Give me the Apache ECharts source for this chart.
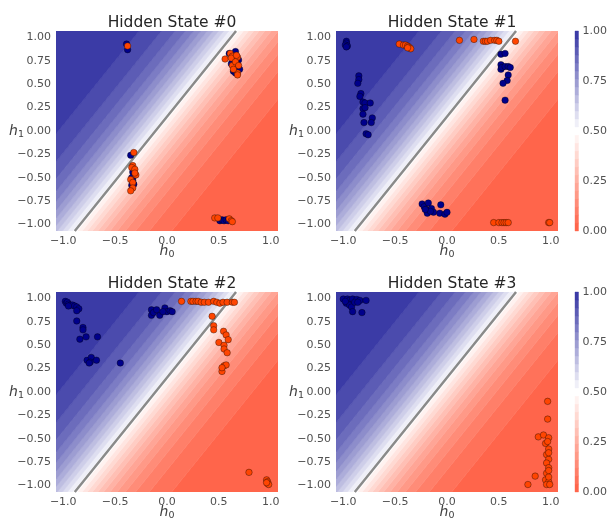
<!DOCTYPE html>
<html>
<head>
<meta charset="utf-8">
<script src="https://cdn.jsdelivr.net/npm/echarts@6/dist/echarts.min.js"></script>
<style>
  html, body { margin: 0; padding: 0; background: #ffffff; }
  #chart { width: 610px; height: 522px; }
</style>
</head>
<body>
<div id="chart"></div>
<script>
// ---- chart text and ticks ----
const titles = ['Hidden State #0', 'Hidden State #1', 'Hidden State #2', 'Hidden State #3'];
const xTicks = [-1, -0.5, 0, 0.5, 1];
const yTicks = [-1, -0.75, -0.5, -0.25, 0, 0.25, 0.5, 0.75, 1];
const colorbarTicks = [0, 0.25, 0.5, 0.75, 1];

// contour levels of the classifier probability P(blue)
const levels = [0, 0.04, 0.08, 0.12, 0.16, 0.2, 0.24, 0.28, 0.32, 0.36, 0.4, 0.44, 0.48,
                0.52, 0.56, 0.6, 0.64, 0.68, 0.72, 0.76, 0.8, 0.84, 0.88, 0.92, 0.96, 1];

// linear readout: logit P(blue) = wH0*h0 + wH1*h1 + bias
const wH0 = -3.40;
const wH1 = 2.47;
const bias = -0.38;

// plotted range of both hidden units
const axisExtent = [-1.07, 1.07];

// ---- hidden state samples [h0, h1] ----
const blue0 = [[-0.39,0.93],[-0.38,0.87],[0.60,0.83],[0.66,0.85],[0.65,0.80],[0.69,0.76],[0.67,0.72],
  [0.66,0.68],[0.64,0.64],[0.66,0.62],[0.70,0.66],[0.62,0.72],[-0.35,-0.26],[-0.33,-0.44],[-0.32,-0.48],
  [-0.34,-0.50],[-0.33,-0.53],[-0.32,-0.57],[-0.34,-0.58],[0.51,-0.96],[0.53,-0.95],[0.55,-0.96],
  [0.57,-0.95],[0.59,-0.96]];
const red0 = [[-0.38,0.91],[0.56,0.77],[0.61,0.83],[0.63,0.80],[0.62,0.78],[0.68,0.79],[0.63,0.70],
  [0.66,0.74],[0.69,0.70],[0.68,0.62],[0.68,0.60],[0.64,0.66],[0.67,0.81],[-0.32,-0.23],[-0.33,-0.37],
  [-0.34,-0.39],[-0.31,-0.41],[-0.30,-0.47],[-0.35,-0.52],[-0.33,-0.55],[-0.33,-0.61],[-0.35,-0.64],
  [-0.31,-0.45],[0.46,-0.93],[0.49,-0.93],[0.60,-0.94],[0.62,-0.96],[0.63,-0.97]];

const blue1 = [[-0.97,0.96],[-0.97,0.94],[-0.98,0.92],[-0.96,0.91],[-0.97,0.90],
  [0.52,0.82],[0.56,0.83],[0.52,0.71],[0.52,0.66],[0.53,0.68],[0.56,0.69],[0.59,0.69],[0.61,0.68],
  [0.59,0.60],[0.58,0.54],[0.54,0.51],[0.56,0.33],
  [-0.85,0.59],[-0.85,0.55],[-0.86,0.51],[-0.83,0.40],[-0.84,0.37],[-0.81,0.31],[-0.79,0.30],
  [-0.74,0.30],[-0.81,0.24],[-0.79,0.25],[-0.81,0.18],[-0.80,0.09],[-0.72,0.14],[-0.73,0.09],
  [-0.78,-0.03],[-0.76,-0.04],
  [-0.24,-0.78],[-0.22,-0.81],[-0.18,-0.77],[-0.20,-0.84],[-0.19,-0.88],[-0.15,-0.83],[-0.13,-0.87],
  [-0.06,-0.79],[-0.07,-0.88],[-0.02,-0.89],[0.00,-0.87],[-0.16,-0.86],[-0.21,-0.84]];
const red1 = [[-0.46,0.93],[-0.42,0.92],[-0.40,0.92],[-0.38,0.91],[-0.37,0.90],[-0.36,0.89],[-0.35,0.88],
  [-0.38,0.89],[0.12,0.97],[0.26,0.98],[0.35,0.96],[0.37,0.96],[0.39,0.96],[0.42,0.97],[0.46,0.97],
  [0.48,0.97],[0.50,0.96],[0.66,0.96],[0.45,-0.98],[0.50,-0.98],[0.53,-0.98],[0.55,-0.98],[0.57,-0.98],
  [0.59,-0.98],[0.98,-0.98],[0.99,-0.98]];

const blue2 = [[-0.98,0.97],[-0.97,0.95],[-0.96,0.96],[-0.95,0.94],[-0.93,0.93],[-0.91,0.93],[-0.89,0.92],
  [-0.87,0.91],[-0.85,0.89],[-0.95,0.92],[-0.87,0.87],[-0.87,0.76],[-0.81,0.69],[-0.81,0.665],
  [-0.84,0.565],[-0.78,0.59],[-0.67,0.59],[-0.77,0.34],[-0.73,0.37],[-0.74,0.32],[-0.68,0.34],
  [-0.75,0.31],[-0.45,0.31],[-0.15,0.88],[-0.15,0.82],[-0.13,0.85],[-0.10,0.88],[-0.07,0.82],
  [-0.02,0.90],[0.00,0.86],[0.03,0.87],[0.05,0.86],[-0.04,0.86]];
const red2 = [[0.14,0.97],[0.23,0.97],[0.25,0.97],[0.28,0.97],[0.30,0.97],[0.33,0.96],[0.36,0.96],
  [0.40,0.96],[0.45,0.97],[0.48,0.96],[0.51,0.95],[0.54,0.96],[0.58,0.96],[0.63,0.96],[0.65,0.96],
  [0.435,0.81],[0.45,0.71],[0.45,0.665],[0.545,0.65],[0.57,0.61],[0.59,0.56],[0.50,0.53],[0.55,0.50],
  [0.55,0.46],[0.58,0.42],[0.55,0.28],[0.57,0.29],[0.53,0.22],[0.53,0.26],
  [0.79,-0.86],[0.96,-0.94],[0.97,-0.96],[0.97,-0.98],[0.98,-0.99],[0.96,-0.97]];

const blue3 = [[-1.0,0.995],[-0.96,0.995],[-0.94,0.98],[-0.91,0.995],[-0.87,0.99],[-0.84,0.98],
  [-0.78,0.98],[-0.97,0.95],[-0.94,0.93],[-0.92,0.91],[-0.91,0.86],[-0.82,0.85],[-0.89,0.96],
  [-0.86,0.96],[-0.98,0.97]];
const red3 = [[0.97,-0.10],[0.97,-0.29],[0.88,-0.48],[0.93,-0.46],[0.98,-0.49],[0.95,-0.55],[0.98,-0.61],
  [0.96,-0.67],[0.98,-0.72],[0.96,-0.76],[0.98,-0.81],[0.96,-0.87],[0.85,-0.90],[0.95,-0.94],
  [0.98,-0.96],[0.78,-0.99],[0.96,-0.99],[0.99,-0.99],[0.98,-0.91],[0.98,-0.65],[0.97,-0.53],[0.98,-0.84]];

const blueSets = [blue0, blue1, blue2, blue3];
const redSets = [red0, red1, red2, red3];

// ---- styling ----
const FONT = 'DejaVu Sans';
const TICK_COLOR = '#505050';
const DARK_BLUE = [0, 0, 139];
const WARM_RED = [255, 55, 20];
const WHITE = [255, 255, 255];
const FILL_ALPHA = 0.8;

// diverging map: 0 -> warm red, 0.5 -> white, 1 -> dark blue, drawn at 80% opacity on white
function divergingColor(v) {
  let a, b, t;
  if (v < 0.5) { a = WARM_RED; b = WHITE; t = v / 0.5; }
  else { a = WHITE; b = DARK_BLUE; t = (v - 0.5) / 0.5; }
  const c = a.map((x, i) => x + (b[i] - x) * t);
  const o = c.map(x => Math.round(x * FILL_ALPHA + 255 * (1 - FILL_ALPHA)));
  return 'rgb(' + o.join(',') + ')';
}

function logitAt(p) { return wH0 * p[0] + wH1 * p[1] + bias; }

// keep the part of a polygon where sign * (logit - z0) >= 0
function clipHalfPlane(poly, sign, z0) {
  const out = [];
  for (let i = 0; i < poly.length; i++) {
    const p = poly[i], q = poly[(i + 1) % poly.length];
    const fp = sign * (logitAt(p) - z0), fq = sign * (logitAt(q) - z0);
    if (fp >= 0) out.push(p);
    if ((fp >= 0) !== (fq >= 0)) {
      const t = fp / (fp - fq);
      out.push([p[0] + (q[0] - p[0]) * t, p[1] + (q[1] - p[1]) * t]);
    }
  }
  return out;
}

const bands = [];
for (let i = 0; i < levels.length - 1; i++) bands.push([levels[i], levels[i + 1]]);

function renderBand(params, api) {
  const lo = api.value(0), hi = api.value(1);
  const [a, b] = axisExtent;
  let poly = [[a, a], [b, a], [b, b], [a, b]];
  if (lo > 0) poly = clipHalfPlane(poly, 1, Math.log(lo / (1 - lo)));
  if (hi < 1) poly = clipHalfPlane(poly, -1, Math.log(hi / (1 - hi)));
  if (poly.length < 3) return null;
  const color = divergingColor((lo + hi) / 2);
  return {
    type: 'polygon',
    shape: { points: poly.map(p => api.coord(p)) },
    style: { fill: color, stroke: color, lineWidth: 0.6 }
  };
}

function renderColorbarBand(params, api) {
  const lo = api.value(0), hi = api.value(1);
  const p0 = api.coord([0, lo]), p1 = api.coord([1, hi]);
  const color = divergingColor((lo + hi) / 2);
  return {
    type: 'rect',
    shape: { x: p0[0], y: p1[1], width: p1[0] - p0[0], height: p0[1] - p1[1] },
    style: { fill: color, stroke: color, lineWidth: 0.4 }
  };
}

// decision boundary P(blue) = 0.5 across the plotted h1 range
function boundaryPoints() {
  return axisExtent.map(h1 => [-(wH1 * h1 + bias) / wH0, h1]);
}

function signed(v, digits) {
  return (v < 0 ? '\u2212' : '') + Math.abs(v).toFixed(digits);
}

// ---- layout ----
const panelBoxes = [
  { left: 56, top: 31 }, { left: 336, top: 31 },
  { left: 56, top: 292 }, { left: 336, top: 292 }
];
const PANEL_W = 222, PANEL_H = 200;
const colorbarBoxes = [{ left: 575, top: 31 }, { left: 575, top: 292 }];
const CBAR_W = 8;

const grids = [], xAxes = [], yAxes = [], series = [], titleList = [];

const nameRich = {
  h: { fontFamily: FONT, fontStyle: 'italic', fontSize: 14, color: '#404040' },
  s: { fontFamily: FONT, fontSize: 9.5, color: '#404040', padding: [7, 0, 0, 0] }
};

panelBoxes.forEach((box, i) => {
  grids.push({ left: box.left, top: box.top, width: PANEL_W, height: PANEL_H, containLabel: false });
  titleList.push({
    text: titles[i],
    left: box.left + PANEL_W / 2,
    top: box.top - 21,
    textAlign: 'center',
    textStyle: { fontFamily: FONT, fontSize: 15.5, fontWeight: 'normal', color: '#262626' }
  });
  xAxes.push({
    gridIndex: i, type: 'value', min: axisExtent[0], max: axisExtent[1],
    axisLine: { show: false }, axisTick: { show: false }, splitLine: { show: false },
    axisLabel: { customValues: xTicks, formatter: v => signed(v, 1), color: TICK_COLOR,
                 fontFamily: FONT, fontSize: 11, margin: 5 },
    name: '{h|h}{s|0}', nameLocation: 'middle', nameGap: 12, nameMoveOverlap: false,
    nameTextStyle: { rich: nameRich }
  });
  yAxes.push({
    gridIndex: i, type: 'value', min: axisExtent[0], max: axisExtent[1],
    axisLine: { show: false }, axisTick: { show: false }, splitLine: { show: false },
    axisLabel: { customValues: yTicks, formatter: v => signed(v, 2), color: TICK_COLOR,
                 fontFamily: FONT, fontSize: 11, margin: 5 },
    name: '{h|h}{s|1}', nameLocation: 'middle', nameGap: 32, nameRotate: 0, nameMoveOverlap: false,
    nameTextStyle: { rich: nameRich }
  });

  series.push({
    type: 'custom', xAxisIndex: i, yAxisIndex: i, renderItem: renderBand,
    data: bands, silent: true, clip: true, z: 1
  });
  series.push({
    type: 'line', xAxisIndex: i, yAxisIndex: i, data: boundaryPoints(),
    showSymbol: false, symbol: 'none', silent: true, z: 2,
    lineStyle: { color: '#8a8a8a', width: 2.5 }
  });
  series.push({
    type: 'scatter', xAxisIndex: i, yAxisIndex: i, data: blueSets[i], z: 3,
    symbolSize: 6.5,
    itemStyle: { color: '#00008b', borderColor: 'rgba(0,0,0,0.6)', borderWidth: 0.6, opacity: 1 }
  });
  series.push({
    type: 'scatter', xAxisIndex: i, yAxisIndex: i, data: redSets[i], z: 3,
    symbolSize: 6.5,
    itemStyle: { color: '#ff4500', borderColor: 'rgba(0,0,0,0.6)', borderWidth: 0.6, opacity: 1 }
  });
});

colorbarBoxes.forEach((box, j) => {
  const gi = panelBoxes.length + j;
  grids.push({ left: box.left, top: box.top, width: CBAR_W, height: PANEL_H });
  xAxes.push({ gridIndex: gi, type: 'value', min: 0, max: 1, show: false });
  yAxes.push({
    gridIndex: gi, type: 'value', min: 0, max: 1, position: 'right',
    axisLine: { show: false }, axisTick: { show: false }, splitLine: { show: false },
    axisLabel: { customValues: colorbarTicks, formatter: v => v.toFixed(2), color: TICK_COLOR,
                 fontFamily: FONT, fontSize: 11, margin: 4 }
  });
  series.push({
    type: 'custom', xAxisIndex: gi, yAxisIndex: gi, renderItem: renderColorbarBand,
    data: bands, silent: true, clip: false
  });
});

const chart = echarts.init(document.getElementById('chart'), null, { renderer: 'canvas' });
chart.setOption({
  animation: false,
  backgroundColor: '#ffffff',
  textStyle: { fontFamily: FONT },
  title: titleList,
  grid: grids,
  xAxis: xAxes,
  yAxis: yAxes,
  series: series
});
</script>
</body>
</html>
